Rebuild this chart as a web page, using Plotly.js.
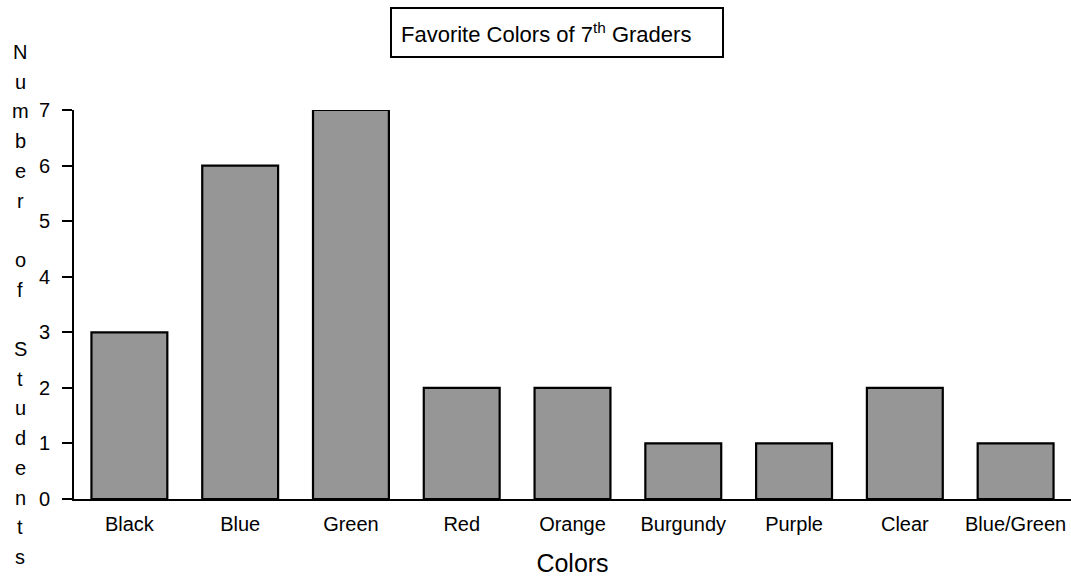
<!DOCTYPE html>
<html>
<head>
<meta charset="utf-8">
<script src="https://cdn.plot.ly/plotly-3.0.1.min.js"></script>
<style>html,body{margin:0;padding:0;background:#fff;}#chart{width:1071px;height:577px;}</style>
</head>
<body>
<div id="chart"></div>
<script>
const categories = ["Black", "Blue", "Green", "Red", "Orange", "Burgundy", "Purple", "Clear", "Blue/Green"];
const counts = [3, 6, 7, 2, 2, 1, 1, 2, 1];
const yTicks = [0, 1, 2, 3, 4, 5, 6, 7];
const chartTitle = "Favorite Colors of 7<sup><span style='color:#000'>th</span></sup> Graders";
const xTitle = "Colors";
const yTitle = "Number of Students";

const W = 1071, H = 577;
const L = 74, R = 0, T = 110, B = 78;
const pw = W - L - R, ph = H - T - B;
const px2x = px => (px - L) / pw;
const py2y = py => (H - B - py) / ph;

const FONT = "Liberation Sans, Arial, sans-serif";

// stacked vertical y-axis title letters (spaces leave an empty line)
const yTitleAnns = [];
yTitle.split("").forEach((ch, i) => {
  if (ch === " ") return;
  yTitleAnns.push({
    text: ch,
    xref: "paper", yref: "paper",
    x: px2x(20), y: py2y(52 + 29.7 * i),
    xanchor: "center", yanchor: "middle",
    showarrow: false,
    font: {family: FONT, size: 20, color: "#000"}
  });
});

const data = [{
  type: "bar",
  x: categories,
  y: counts,
  width: 0.685,
  marker: {color: "#969696", line: {color: "#000", width: 2.2}},
  hoverinfo: "x+y"
}];

const layout = {
  width: W, height: H,
  margin: {l: L, r: R, t: T, b: B},
  paper_bgcolor: "#fff", plot_bgcolor: "#fff",
  showlegend: false,
  font: {family: FONT, color: "#000"},
  xaxis: {
    type: "category",
    range: [-0.5, 8.5],
    showgrid: false, zeroline: false,
    showline: true, linecolor: "#000", linewidth: 2,
    ticks: "", tickfont: {family: FONT, size: 20, color: "#000"},
    ticklabelstandoff: 6,
    title: {text: xTitle, font: {family: FONT, size: 25, color: "#000"}, standoff: 20},
    fixedrange: true
  },
  yaxis: {
    range: [0, 7],
    tickvals: yTicks,
    showgrid: false, zeroline: false,
    showline: true, linecolor: "#000", linewidth: 2,
    ticks: "outside", ticklen: 10, tickwidth: 2, tickcolor: "#000",
    tickfont: {family: FONT, size: 20, color: "#000"},
    ticklabelstandoff: 8,
    fixedrange: true
  },
  shapes: [{
    type: "rect", xref: "paper", yref: "paper",
    x0: px2x(391), x1: px2x(723), y0: py2y(57), y1: py2y(8),
    line: {color: "#000", width: 2}, fillcolor: "rgba(0,0,0,0)"
  }],
  annotations: [{
    text: chartTitle,
    xref: "paper", yref: "paper",
    x: px2x(546), y: py2y(33),
    xanchor: "center", yanchor: "middle",
    showarrow: false,
    font: {family: FONT, size: 22, color: "#000"}
  }].concat(yTitleAnns)
};

Plotly.newPlot("chart", data, layout, {displayModeBar: false, staticPlot: true});
</script>
</body>
</html>
